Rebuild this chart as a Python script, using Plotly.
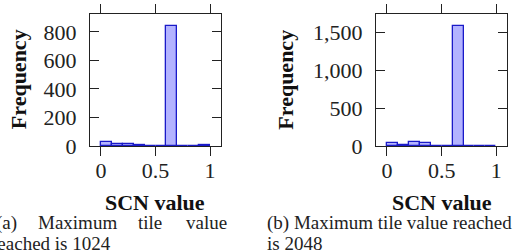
import plotly.graph_objects as go

# Data: histogram counts per SCN-value bin (bin width 0.1)
bin_left = [0.0, 0.1, 0.2, 0.3, 0.4, 0.5, 0.6, 0.7, 0.8, 0.9]
counts_1024 = [26, 16, 16, 7, 0, 0, 840, 0, 0, 6]
counts_2048 = [32, 14, 48, 31, 0, 0, 1585, 0, 0, 0]
bin_width = 0.1

x_tickvals = [0, 0.5, 1]
x_ticktext = ["0", "0.5", "1"]
y1_ticks = [0, 200, 400, 600, 800]
y2_ticks = [0, 500, 1000, 1500]

W, H = 516, 250
H_EFF = 235  # observed effective vertical extent of paper coordinates
def px(x):
    return x / W
def py(y):
    return 1 - y / H_EFF

FILL = "#b3b3ff"
EDGE = "#1a1ac8"
SERIF = "Liberation Serif"

fig = go.Figure()
centers = [b + bin_width / 2 for b in bin_left]
fig.add_trace(go.Bar(x=centers, y=counts_1024, width=bin_width,
                     marker=dict(color=FILL, line=dict(color=EDGE, width=1.3)),
                     xaxis="x", yaxis="y", showlegend=False))
fig.add_trace(go.Bar(x=centers, y=counts_2048, width=bin_width,
                     marker=dict(color=FILL, line=dict(color=EDGE, width=1.3)),
                     xaxis="x2", yaxis="y2", showlegend=False))

tickfont = dict(family=SERIF, size=22, color="#222")
xcommon = dict(range=[-0.1, 1.1], tickvals=x_tickvals, ticktext=x_ticktext,
               ticks="outside", ticklen=9, tickcolor="#222", tickwidth=1,
               showline=True, linecolor="#222", linewidth=1.3, mirror="allticks",
               showgrid=False, zeroline=False, tickfont=tickfont,
               ticklabelstandoff=-4)
ycommon = dict(ticks="inside", ticklen=9, tickcolor="#222", tickwidth=1,
               showline=True, linecolor="#222", linewidth=1.3, mirror="allticks",
               showgrid=False, zeroline=False, tickfont=tickfont,
               ticklabelstandoff=8)

ydom = [py(144.7), py(14)]
fig.update_layout(
    width=W, height=H,
    margin=dict(l=0, r=0, t=0, b=0),
    paper_bgcolor="white", plot_bgcolor="white",
    bargap=0,
    xaxis=dict(domain=[px(90), px(221)], anchor="y", **xcommon),
    yaxis=dict(domain=ydom, anchor="x", range=[0, 925], tickvals=y1_ticks, **ycommon),
    xaxis2=dict(domain=[px(376), px(507.3)], anchor="y2", **xcommon),
    yaxis2=dict(domain=ydom, anchor="x2", range=[0, 1745], tickvals=y2_ticks,
                tickformat=",", **ycommon),
)

bold = dict(family=SERIF, size=22, color="#111")
cap = dict(family=SERIF, size=19, color="#222")

def ann(text, x, y, font, xanchor="center", yanchor="middle", angle=0):
    fig.add_annotation(text=text, x=px(x), y=py(y), xref="paper", yref="paper",
                       showarrow=False, font=font, xanchor=xanchor,
                       yanchor=yanchor, textangle=angle, borderpad=0)

ann("<b>Frequency</b>", 18.5, 79, bold, angle=-90)
ann("<b>Frequency</b>", 286, 79, bold, angle=-90)
ann("<b>SCN value</b>", 155, 201, bold)
ann("<b>SCN value</b>", 442, 201, bold)

# Captions
L1, L2 = 221, 241
ann("(a)", 18.3, L1, cap, xanchor="right")
ann("Maximum", 37, L1, cap, xanchor="left")
ann("tile", 137, L1, cap, xanchor="left")
ann("value", 228, L1, cap, xanchor="right")
ann("reached is 1024", 112, L2, cap, xanchor="right")
ann("(b) Maximum tile value reached", 265.5, L1, cap, xanchor="left")
ann("is 2048", 265.5, L2, cap, xanchor="left")

fig.write_html("out.html", config={"displayModeBar": False},
               post_script="document.body.style.margin='0';document.body.style.overflow='hidden';")
